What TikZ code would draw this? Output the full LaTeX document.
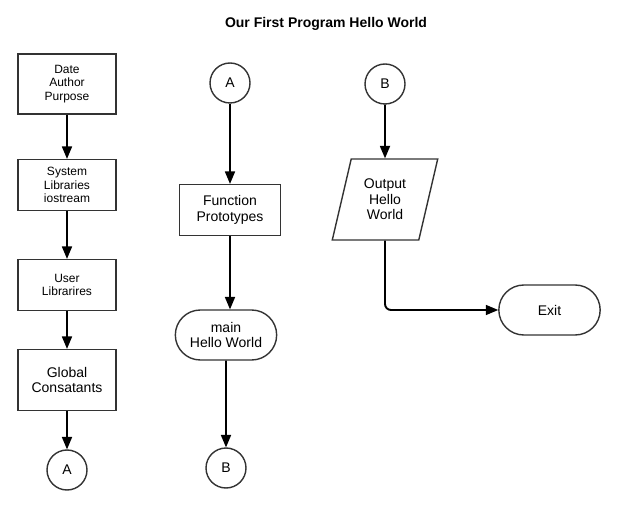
\documentclass[tikz,border=0pt]{standalone}
\usepackage{fontspec}
\setmainfont{Liberation Sans}
\usepackage{tikz}
\usetikzlibrary{arrows,shapes.geometric,shapes.misc}

\begin{document}
\begin{tikzpicture}[x=1pt,y=-1pt,>=triangle 45,semithick]

    \tikzstyle{every node}=[draw=black!80,line width=1.4pt,fill=white,text=black,align=center,font=\fontsize{14}{15.5}\selectfont]
    \tikzstyle{block}=[rectangle,minimum width=98pt]
    \tikzstyle{conn}=[circle,minimum size=40pt,inner sep=0pt]
    \tikzstyle{term}=[rounded rectangle,minimum width=108pt,minimum height=50pt]
    \tikzstyle{io}=[trapezium,trapezium left angle=74,trapezium right angle=106,trapezium stretches=true,minimum width=106pt,minimum height=81pt]
    \tikzstyle{small}=[font=\fontsize{12}{13.7}\selectfont]
    \tikzstyle{flow}=[->,draw=black,line width=1.9pt]

    \useasboundingbox (0,0) rectangle (626,510);

    \node[draw=none,fill=none,font=\bfseries\fontsize{14}{16}\selectfont] (title) at (326,24) {Our First Program Hello World};

    % left column
    \node[block,small,minimum height=60pt] (head)   at (67,84)  {Date\\Author\\Purpose};
    \node[block,small,minimum height=51pt] (syslib) at (67,185) {System\\Libraries\\iostream};
    \node[block,small,minimum height=51pt] (usrlib) at (67,285) {User\\Librarires};
    \node[block,minimum height=61pt]       (global) at (67,380) {Global\\Consatants};
    \node[conn] (outA) at (67,470) {A};

    % middle column
    \node[conn] (inA) at (230,83) {A};
    \node[block,minimum width=101pt,minimum height=51pt] (proto) at (230,210) {Function\\Prototypes};
    \node[term] (main) at (226,335) {main\\Hello World};
    \node[conn] (outB) at (226,468) {B};
    \coordinate (mainTop) at (proto.south |- main.north);

    % right column
    \node[conn] (inB) at (385,84) {B};
    \node[io] (output) at (385,199.5) {Output\\Hello\\World};
    \node[term] (exit) at (549.5,310) {Exit};

    \path (head) edge[flow] (syslib)
          (syslib) edge[flow] (usrlib)
          (usrlib) edge[flow] (global)
          (global) edge[flow] (outA)
          (inA) edge[flow] (proto)
          (proto.south) edge[flow] (mainTop)
          (main) edge[flow] (outB)
          (inB) edge[flow] (output);
    \draw[flow,rounded corners=6pt] (output.south) |- (exit.west);
\end{tikzpicture}
\end{document}
